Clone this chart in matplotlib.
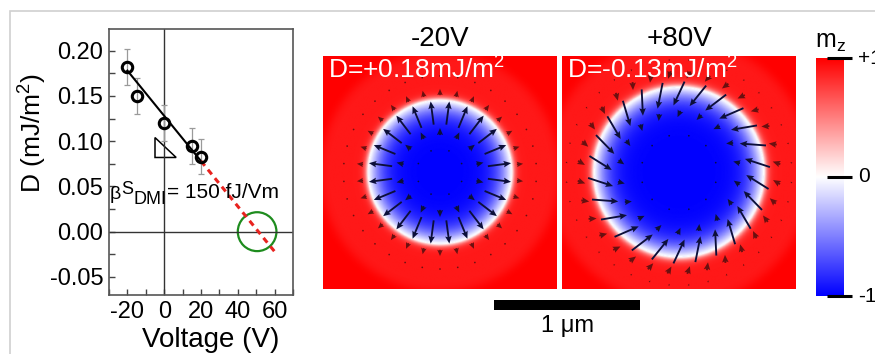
import numpy as np
import matplotlib
matplotlib.use("Agg")
import matplotlib.pyplot as plt
from matplotlib.patches import Ellipse, Polygon, Rectangle
from matplotlib.ticker import MultipleLocator, FormatStrFormatter

plt.rcParams['font.family'] = ['Liberation Sans', 'DejaVu Sans']
plt.rcParams['mathtext.fontset'] = 'custom'
plt.rcParams['mathtext.rm'] = 'Liberation Sans'
plt.rcParams['mathtext.it'] = 'Liberation Sans'
plt.rcParams['mathtext.default'] = 'regular'
plt.rcParams['axes.unicode_minus'] = False

# ---- left panel data: DMI constant vs voltage ----
voltage = [-20, -15, 0, 15, 20]
D_meas = [0.182, 0.150, 0.120, 0.095, 0.083]
D_err = [0.020, 0.020, 0.020, 0.020, 0.019]
fit_v = [-20, 20]
fit_D = [0.178, 0.078]
extra_v = [20, 60]
extra_D = [0.078, -0.022]
zero_cross = (50.5, 0.0)
triangle = [(-5, 0.104), (-5, 0.082), (6.5, 0.082)]

# ---- skyrmion maps (units: um) ----
panel_titles = ['-20V', '+80V']
panel_labels = ['D=+0.18mJ/m$^2$', 'D=-0.13mJ/m$^2$']
sk_radius = [0.49, 0.58]        # mz = 0 contour
wall_in = [0.12, 0.12]          # width on core side
wall_out = [0.03, 0.035]        # width on outside
halo_r = [0.33, 0.33]           # faint outer halo extent
arrow_dir = [1, -1]             # +1 outward (D>0), -1 inward (D<0)
arrow_twist = [0.0, -25.0]      # deg
arrow_peak = [0.41, 0.54]       # radius of the big arrows
arrow_w = [0.07, 0.07]
ring_r = [[0.16, 0.28, 0.41, 0.55, 0.66],
          [0.26, 0.40, 0.54, 0.67, 0.77]]
ring_n = [[8, 14, 24, 30, 34],
          [12, 18, 26, 32, 36]]
arrow_len = [0.16, 0.18]
half = 0.8
scale_len = 1.0

W, H = 875, 354
def px(x, y, w, h):
    return [x / W, 1 - (y + h) / H, w / W, h / H]

fig = plt.figure(figsize=(8.75, 3.54), dpi=100)

# outer light frame
fig.add_artist(Rectangle((10 / W, -0.1), 1.2, 1 - 11 / H + 0.1, transform=fig.transFigure,
                         fill=False, ec='#d0d0d0', lw=1.2))

# ===== left: D vs voltage =====
ax = fig.add_axes(px(109, 29, 184, 266))
ax.axvline(0, color='#333333', lw=1)
ax.axhline(0, color='#333333', lw=1)
ax.errorbar(voltage, D_meas, yerr=D_err, fmt='none', ecolor='#9a9a9a', elinewidth=0.9,
            capsize=2.5, capthick=0.9)
ax.plot(fit_v, fit_D, color='black', lw=1.5)
ax.plot(extra_v, extra_D, color='#e8231f', lw=2.2, ls=(0, (2, 1.6)))
ax.plot(voltage, D_meas, 'o', ms=7.5, mfc='none', mec='black', mew=2.2)
ax.add_patch(Ellipse(zero_cross, width=21, height=0.043, fill=False, ec='#1e8c1e', lw=1.6))
ax.add_patch(Polygon(triangle, closed=True, fill=False, ec='black', lw=1.1))

# beta^S_DMI = 150 fJ/Vm, built from pieces so the scripts stay large
t1 = ax.text(-29.5, 0.036, 'β', fontsize=14, va='baseline', ha='left')
t2 = ax.annotate('S', xy=(1, 0), xycoords=t1, xytext=(0.3, 6.5), textcoords='offset points',
                 fontsize=13, va='baseline', ha='left')
t3 = ax.annotate('DMI', xy=(1, 0), xycoords=(t2, t1), xytext=(0, -0.5), textcoords='offset points',
                 fontsize=13, va='baseline', ha='left')
ax.annotate('= 150 fJ/Vm', xy=(1, 0), xycoords=(t3, t1), xytext=(0, 4),
            textcoords='offset points', fontsize=15, va='baseline', ha='left')

ax.set_xlim(-30, 70)
ax.set_ylim(-0.07, 0.224)
ax.xaxis.set_major_locator(MultipleLocator(20))
ax.xaxis.set_minor_locator(MultipleLocator(10))
ax.yaxis.set_major_locator(MultipleLocator(0.05))
ax.yaxis.set_minor_locator(MultipleLocator(0.025))
ax.yaxis.set_major_formatter(FormatStrFormatter('%.2f'))
ax.tick_params(which='both', direction='in', length=4, width=1, color='#444444')
ax.tick_params(labelsize=17, pad=4)
for s in ax.spines.values():
    s.set_color('#555555')
    s.set_linewidth(1.2)
ax.set_xlabel('Voltage (V)', fontsize=20)
ax.set_ylabel('D (mJ/m$^2$)', fontsize=19)
ax.xaxis.set_label_coords(0.554, -0.12)
ax.yaxis.set_label_coords(-0.326, 0.61)

# ===== skyrmion panels =====
xs = np.linspace(-half, half, 400)
X, Y = np.meshgrid(xs, xs)
Rg = np.hypot(X, Y)

def mz_profile(r, R, w_in, w_out):
    return np.where(r < R, -np.tanh((R - r) / w_in), np.tanh((r - R) / w_out))

panel_px = [(323, 55), (562, 55)]
img_axes = []
for k in range(2):
    a = fig.add_axes(px(panel_px[k][0], panel_px[k][1], 234, 235))
    img_axes.append(a)
    R = sk_radius[k]
    mz = mz_profile(Rg, R, wall_in[k], wall_out[k])
    halo = 0.1 / (1 + np.exp((Rg - R - halo_r[k]) / 0.02)) * (Rg > R)
    mz = mz - halo
    a.imshow(mz, cmap='bwr', vmin=-1, vmax=1, origin='lower',
             extent=[-half, half, -half, half], interpolation='bilinear')
    # in-plane magnetisation arrows on rings
    px_list, py_list, u_list, v_list, c_list = [], [], [], [], []
    tw = np.deg2rad(arrow_twist[k])
    for r, n in zip(ring_r[k], ring_n[k]):
        phi = np.linspace(0, 2 * np.pi, n, endpoint=False) + np.pi / n
        L = arrow_len[k] / np.cosh((r - arrow_peak[k]) / arrow_w[k])
        ang = phi + (0 if arrow_dir[k] > 0 else np.pi) + tw
        px_list += list(r * np.cos(phi))
        py_list += list(r * np.sin(phi))
        u_list += list(L * np.cos(ang))
        v_list += list(L * np.sin(ang))
        c_list += ['#0c0f3a' if r < R else '#6a1010'] * n
    a.quiver(px_list, py_list, u_list, v_list, color=c_list, angles='xy',
             scale_units='xy', scale=1, pivot='mid', width=0.008,
             headwidth=3.5, headlength=4, headaxislength=3.5)
    a.set_xlim(-half, half)
    a.set_ylim(-half, half)
    a.set_xticks([])
    a.set_yticks([])
    for s in a.spines.values():
        s.set_visible(False)
    a.set_title(panel_titles[k], fontsize=20, pad=7)
    a.text(0.02, 0.995, panel_labels[k], transform=a.transAxes, color='white',
           fontsize=19, ha='left', va='top')

# scale bar (1 um) under the panels
a0 = img_axes[0]
x0 = 0.37
a0.plot([x0, x0 + scale_len], [-0.905, -0.905], color='black', lw=7.2,
        solid_capstyle='butt', clip_on=False)
a0.text(x0 + scale_len / 2, -0.975, '1 μm', fontsize=17, ha='center', va='top')

# ===== colour bar =====
cb = fig.add_axes(px(816, 58, 28, 238))
grad = np.linspace(-1, 1, 256).reshape(-1, 1)
cb.imshow(grad, cmap='bwr', vmin=-1, vmax=1, origin='lower', aspect='auto',
          extent=[0, 1, -1, 1])
cb.set_xlim(0, 1)
cb.set_ylim(-1, 1)
cb.set_xticks([])
cb.set_yticks([])
for s in cb.spines.values():
    s.set_visible(False)
for val, lab in zip([1, 0, -1], ['+1', '0', '-1']):
    cb.plot([0.4, 1.3], [val, val], color='black', lw=2.2, clip_on=False,
            solid_capstyle='butt')
    cb.text(1.5, val, lab, fontsize=15, va='center', ha='left', clip_on=False)
fig.text(815 / W, 1 - 48 / H, 'm$_z$', fontsize=18, ha='left', va='baseline')

fig.savefig('out.png', dpi=100)
